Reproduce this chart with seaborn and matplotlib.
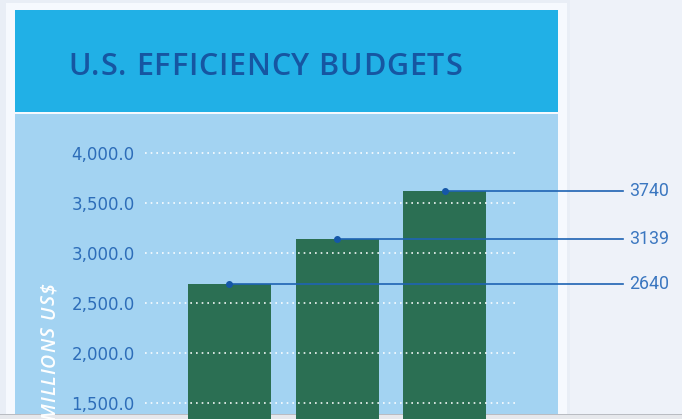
import matplotlib
matplotlib.use("Agg")
import matplotlib.pyplot as plt
import seaborn as sns
import pandas as pd
from matplotlib.patches import Rectangle

# ---- data ----
years = ["2009", "2010", "2011"]
bar_values = [2690, 3140, 3615]
callout_labels = ["2640", "3139", "3740"]
y_ticks = [1500, 2000, 2500, 3000, 3500, 4000]
title = "U.S. EFFICIENCY BUDGETS"
y_label = "MILLIONS US$"

df = pd.DataFrame({"year": years, "budget": bar_values})

W, H = 682, 419
fig = plt.figure(figsize=(W / 100, H / 100), dpi=100)
fig.patch.set_facecolor("#e9eef6")
renderer = fig.canvas.get_renderer()


def px_rect(x0, y0, x1, y1, color, z=-5):
    fig.add_artist(Rectangle((x0 / W, 1 - y1 / H), (x1 - x0) / W, (y1 - y0) / H,
                             transform=fig.transFigure, facecolor=color,
                             edgecolor="none", zorder=z))


def text_width(s, **kw):
    t = fig.text(0, 0, s, **kw)
    w = t.get_window_extent(renderer).width
    t.remove()
    return w


def tracked_text(x_px, y_px, s, length_px, vertical=False, **kw):
    """Draw s with letter spacing so that it spans length_px pixels."""
    bar_w = text_width("|", **kw)
    pos = [text_width(s[:k] + "|", **kw) - bar_w for k in range(len(s))]
    total = text_width(s + "|", **kw) - bar_w
    track = (length_px - total) / (len(s) - 1)
    for k, ch in enumerate(s):
        if ch == " ":
            continue
        off = pos[k] + k * track
        if vertical:
            fig.text(x_px / W, 1 - (y_px - off) / H, ch, rotation=90,
                     rotation_mode="anchor", ha="left", va="baseline", **kw)
        else:
            fig.text((x_px + off) / W, 1 - y_px / H, ch, ha="left",
                     va="baseline", **kw)


px_rect(570, 0, W, H, "#eef2f9", -6)
px_rect(6, 3, 567, 419, "#f6f9fe")
px_rect(15, 10, 558, 112, "#21b0e6")
px_rect(15, 114, 558, 419, "#a3d3f2")
px_rect(0, 414, W, 415, "#b9bcc2", -4)
px_rect(0, 415, W, H, "#e6e8ec", -4)

ax = fig.add_axes([145 / W, 1 - 453 / H, 370 / W, 330 / H])
ax.patch.set_alpha(0)

sns.barplot(data=df, x="year", y="budget", color="#2b6f53", saturation=1,
            width=0.77, ax=ax, zorder=1)
ax.set_xlim(-0.784, 2.65)
ax.set_ylim(1000, 4300)
ax.set_yticks(y_ticks)
ax.set_yticklabels([f"{v:,.1f}" for v in y_ticks])
ax.tick_params(axis="y", length=0, pad=7.5, labelcolor="#2d6db9", labelsize=12)
ax.tick_params(axis="x", length=0, labelbottom=False)
ax.set_xlabel("")
ax.set_ylabel("")
for s in ax.spines.values():
    s.set_visible(False)
ax.set_axisbelow(False)
ax.yaxis.grid(True, color="white", linestyle=(0, (1, 2.4)), linewidth=1.2, alpha=0.95)

fig.canvas.draw()
inv = ax.transData.inverted()
line_end_x = inv.transform((623, 0))[0]
label_x = inv.transform((669, 0))[0]

for i, (v, lab) in enumerate(zip(bar_values, callout_labels)):
    ax.plot([i, line_end_x], [v, v], color="#1e63b3", lw=1.2, clip_on=False, zorder=4)
    ax.plot([i], [v], "o", color="#1557a8", ms=4, clip_on=False, zorder=5)
    ax.text(label_x, v, lab, ha="right", va="center", color="#3b77c0",
            fontsize=12.8, family="Roboto", clip_on=False)

tracked_text(68, 75, title, 394, fontsize=22, color="#1656a2",
             family="Open Sans", weight="semibold")
tracked_text(55, 420, y_label, 137, vertical=True, fontsize=14, color="white",
             style="italic", family="Open Sans", weight="semibold")

fig.savefig("out.png", dpi=100, facecolor=fig.get_facecolor())
